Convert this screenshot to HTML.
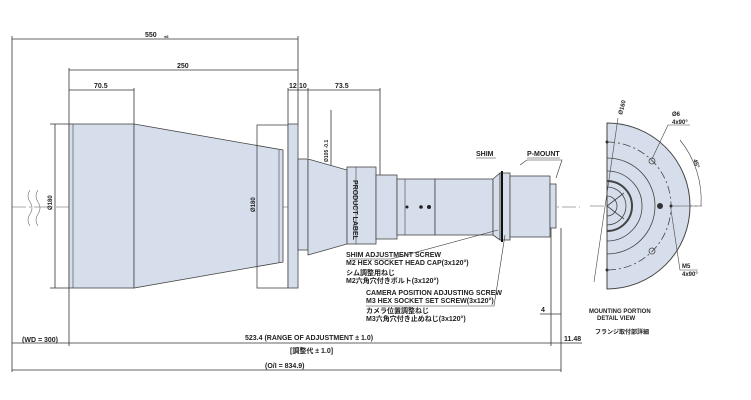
<!DOCTYPE html>
<html><head><meta charset="utf-8"><style>
html,body{margin:0;padding:0;background:#fff;width:751px;height:400px;overflow:hidden}
svg{display:block}
text{font-family:"Liberation Sans","Noto Sans CJK JP",sans-serif;font-weight:bold;fill:#222}
</style></head><body>
<svg width="751" height="400" viewBox="0 0 751 400" xmlns="http://www.w3.org/2000/svg">
<g stroke="#333" stroke-width="0.8" fill="none">
<line x1="12" y1="39" x2="298" y2="39"/>
<line x1="12" y1="36" x2="12" y2="372"/>
<line x1="298" y1="36" x2="298" y2="124"/>
<line x1="69" y1="70" x2="298" y2="70"/>
<line x1="69" y1="68" x2="69" y2="346"/>
<line x1="69" y1="90" x2="134" y2="90"/>
<line x1="134" y1="88" x2="134" y2="124"/>
<line x1="288" y1="88" x2="288" y2="124"/>
<line x1="308" y1="88" x2="308" y2="158"/>
<line x1="288" y1="90" x2="380" y2="90"/>
<line x1="380" y1="88" x2="380" y2="175"/>
<line x1="12" y1="343" x2="555" y2="343"/>
<line x1="12" y1="370" x2="561" y2="370"/>
<line x1="551" y1="228" x2="551" y2="346"/>
<line x1="561" y1="228" x2="561" y2="372"/>
<line x1="540" y1="314" x2="561" y2="314"/>
<line x1="555" y1="343" x2="582" y2="343"/>
<line x1="55" y1="124" x2="55" y2="288"/>
<line x1="50" y1="124" x2="69" y2="124"/><line x1="50" y1="288" x2="69" y2="288"/>
<line x1="331" y1="110" x2="331" y2="170"/>
</g>
<line x1="12" y1="207" x2="580" y2="207" stroke="#555" stroke-width="0.6" stroke-dasharray="14,3,2,3"/>
<line x1="590" y1="206" x2="700" y2="206" stroke="#555" stroke-width="0.6" stroke-dasharray="14,3,2,3"/>
<path d="M30 190 q-4 6 0 12 q4 6 0 12 q-4 6 0 12 M38 190 q-4 6 0 12 q4 6 0 12 q-4 6 0 12" stroke="#777" stroke-width="0.6" fill="none"/>
<g fill="#d6deeb" stroke="#444" stroke-width="0.8">
<rect x="69" y="124" width="65" height="164"/>
<polygon points="134,124 283,150 283,262 134,288"/>
<rect x="257" y="125" width="31" height="163" fill="none"/>
<rect x="288" y="124" width="10" height="164"/>
<rect x="298" y="159" width="10" height="91"/>
<polygon points="308,159 347,170 347,244 308,255"/>
<rect x="347" y="167" width="29" height="77"/>
<rect x="376" y="175" width="21" height="64"/>
<rect x="397" y="179" width="38" height="56"/>
<rect x="435" y="179" width="58" height="56"/>
<polygon points="493,179 500,173 500,240 493,235"/>
<rect x="500" y="173" width="10" height="67"/>
<rect x="510" y="176" width="40" height="61"/>
<rect x="550" y="184" width="6" height="44"/>
</g>
<g stroke="#444" stroke-width="0.6">
<line x1="73" y1="124" x2="73" y2="288"/>
<line x1="279" y1="150" x2="279" y2="262"/>
<line x1="356" y1="167" x2="356" y2="244"/>
<line x1="405" y1="179" x2="405" y2="235"/>
</g>
<line x1="502" y1="171" x2="502" y2="242" stroke="#111" stroke-width="2"/>
<circle cx="407" cy="207" r="1.5" fill="#222"/><circle cx="421" cy="207" r="1.8" fill="#222"/><circle cx="429" cy="207" r="2" fill="#222"/>
<g font-size="7">
<text x="145" y="37">550</text><text x="164" y="38" font-size="4">±8</text>
<text x="177" y="68">250</text>
<text x="94" y="88">70.5</text>
<text x="289" y="88">12</text><text x="299" y="88">10</text>
<text x="335" y="88">73.5</text>
<text x="541" y="312">4</text>
<text x="564" y="341">11.48</text>
<text x="22" y="342">(WD = 300)</text>
<text x="245" y="340">523.4 (RANGE OF ADJUSTMENT ± 1.0)</text>
<text x="290" y="353">[調整代 ± 1.0]</text>
<text x="265" y="368">(O/I = 834.9)</text>
<text x="476" y="156">SHIM</text>
<text x="527" y="156">P-MOUNT</text>
<text x="346" y="257">SHIM ADJUSTMENT SCREW</text>
<text x="346" y="265">M2 HEX SOCKET HEAD CAP(3x120°)</text>
<text x="346" y="275">シム調整用ねじ</text>
<text x="346" y="283">M2六角穴付きボルト(3x120°)</text>
<text x="366" y="295">CAMERA POSITION ADJUSTING SCREW</text>
<text x="366" y="303">M3 HEX SOCKET SET SCREW(3x120°)</text>
<text x="366" y="313">カメラ位置調整ねじ</text>
<text x="366" y="321">M3六角穴付き止めねじ(3x120°)</text>
<text x="589" y="313" font-size="6">MOUNTING PORTION</text>
<text x="597" y="320" font-size="6">DETAIL VIEW</text>
<text x="595" y="334" font-size="6">フランジ取付部詳細</text>
<text x="672" y="116" font-size="6">Ø6</text><text x="672" y="124" font-size="6">4x90°</text>
<text x="682" y="268" font-size="6">M5</text><text x="682" y="276" font-size="6">4x90°</text>
<text transform="translate(52,210) rotate(-90)" font-size="6">Ø180</text>
<text transform="translate(255,212) rotate(-90)" font-size="6">Ø180</text>
<text transform="translate(328,162) rotate(-90)" font-size="5">Ø105 -0.1</text>
<text transform="translate(353,180) rotate(90)" font-size="7">PRODUCT LABEL</text>
<text transform="translate(622,115) rotate(-75)" font-size="6">Ø160</text>
<text transform="translate(693,160) rotate(70)" font-size="6">45°</text>
</g>
<g stroke="#333" stroke-width="0.6" fill="none">
<path d="M349 259 H391 L498 230"/>
<path d="M366 306 H494 L505 235"/>
<path d="M520 165 L527 160 H562 L556 178"/>
<line x1="476" y1="158" x2="496" y2="158"/>
<line x1="527" y1="158" x2="560" y2="158"/>
</g>
<path d="M607 123 A83 83 0 0 1 607 289 Z" fill="#d6deeb" stroke="#444" stroke-width="1"/>
<g fill="none" stroke="#444" stroke-width="0.8">
<path d="M607 142 A64 64 0 0 1 607 270" stroke-dasharray="8,3,2,3"/>
<path d="M607 158 A48 48 0 0 1 607 254"/>
<path d="M607 171 A35 35 0 0 1 607 241"/>
<path d="M607 181 A25 25 0 0 1 607 231" stroke-width="2"/>
<path d="M607 187 A19 19 0 0 1 607 225"/>
<path d="M607 196 A10 10 0 0 1 607 216"/>
<path d="M607 206 L624 193 M607 206 L624 219"/>
<path d="M680 140 A95 95 0 0 1 701 206" stroke-width="0.6"/>
<line x1="671" y1="206" x2="702" y2="206" stroke-width="0.6"/>
<line x1="618" y1="118" x2="594" y2="282" stroke-width="0.6"/>
<line x1="652" y1="159" x2="668" y2="125" stroke-width="0.6"/>
<line x1="668" y1="125" x2="690" y2="125" stroke-width="0.6"/>
<line x1="671" y1="210" x2="680" y2="270" stroke-width="0.6"/>
<line x1="680" y1="270" x2="698" y2="270" stroke-width="0.6"/>
<circle cx="652" cy="161" r="3"/><circle cx="652" cy="251" r="3"/>
</g>
<circle cx="660" cy="206" r="3" fill="#333"/><circle cx="671" cy="206" r="1.5" fill="#333"/>
<circle cx="607" cy="142" r="1.5" fill="#333"/><circle cx="607" cy="270" r="1.5" fill="#333"/>
</svg>
</body></html>
